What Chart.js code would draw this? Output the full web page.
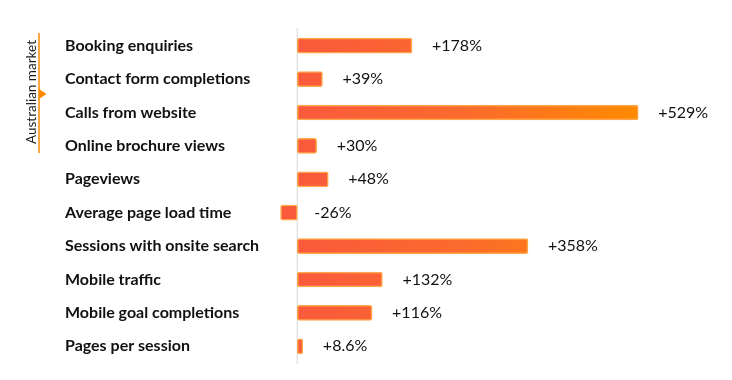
<!DOCTYPE html>
<html>
<head>
<meta charset="utf-8">
<script src="https://cdn.jsdelivr.net/npm/chart.js@4/dist/chart.umd.min.js"></script>
<style>
  html, body { margin: 0; padding: 0; background: #ffffff; }
  #wrap { position: relative; width: 732px; height: 380px; }
</style>
</head>
<body>
<div id="wrap"><canvas id="c" width="732" height="380"></canvas></div>
<script>
const categories = [
  "Booking enquiries",
  "Contact form completions",
  "Calls from website",
  "Online brochure views",
  "Pageviews",
  "Average page load time",
  "Sessions with onsite search",
  "Mobile traffic",
  "Mobile goal completions",
  "Pages per session"
];
const changePercent = [178, 39, 529, 30, 48, -26, 358, 132, 116, 8.6];
const groupLabel = "Australian market";

const zeroLine = {
  id: 'zeroLine',
  beforeDatasetsDraw(chart) {
    const ctx = chart.ctx, x = chart.scales.x.getPixelForValue(0);
    const a = chart.chartArea;
    ctx.save();
    ctx.strokeStyle = '#e3e3e3';
    ctx.lineWidth = 1.5;
    ctx.beginPath();
    ctx.moveTo(x, a.top - 1);
    ctx.lineTo(x, a.bottom + 1);
    ctx.stroke();
    ctx.restore();
  }
};

const valueLabels = {
  id: 'valueLabels',
  afterDatasetsDraw(chart) {
    const ctx = chart.ctx;
    const meta = chart.getDatasetMeta(0);
    ctx.save();
    ctx.font = '16px Lato';
    ctx.fillStyle = '#111111';
    ctx.textAlign = 'left';
    ctx.textBaseline = 'middle';
    meta.data.forEach((el, i) => {
      const v = changePercent[i];
      const txt = (v > 0 ? '+' : '') + v + '%';
      const xEnd = Math.max(el.x, el.base);
      ctx.fillText(txt, xEnd + (v < 0 ? 17 : 20), el.y);
    });
    ctx.restore();
  }
};

const groupMarker = {
  id: 'groupMarker',
  afterDraw(chart) {
    const ctx = chart.ctx;
    ctx.save();
    ctx.strokeStyle = '#ff8a00';
    ctx.lineWidth = 1.5;
    ctx.beginPath();
    ctx.moveTo(39, 33);
    ctx.lineTo(39, 153);
    ctx.stroke();
    ctx.fillStyle = '#ff8a00';
    ctx.beginPath();
    ctx.moveTo(39, 89);
    ctx.lineTo(46.5, 94);
    ctx.lineTo(39, 99);
    ctx.closePath();
    ctx.fill();
    ctx.translate(32, 92);
    ctx.rotate(-Math.PI / 2);
    ctx.font = '13.5px Lato';
    ctx.fillStyle = '#1a1a1a';
    ctx.textAlign = 'center';
    ctx.textBaseline = 'middle';
    ctx.fillText(groupLabel, 0, 0);
    ctx.restore();
  }
};

new Chart(document.getElementById('c'), {
  type: 'bar',
  data: {
    labels: categories,
    datasets: [{
      data: changePercent,
      backgroundColor(context) {
        const chart = context.chart;
        const a = chart.chartArea;
        if (!a) return '#f95a3c';
        const x = chart.scales.x;
        const g = chart.ctx.createLinearGradient(x.getPixelForValue(0), 0, x.getPixelForValue(529), 0);
        g.addColorStop(0, '#f95a3c');
        g.addColorStop(0.5, '#fb6b2c');
        g.addColorStop(1, '#ff8a00');
        return g;
      },
      borderColor: 'rgba(255,150,40,0.85)',
      borderWidth: 1.5,
      borderSkipped: false,
      borderRadius: 2,
      barThickness: 15
    }]
  },
  options: {
    indexAxis: 'y',
    responsive: false,
    animation: false,
    layout: { padding: { left: 65, right: 12, top: 29, bottom: 17 } },
    plugins: { legend: { display: false }, tooltip: { enabled: false } },
    scales: {
      x: {
        display: false,
        min: -30,
        max: 656
      },
      y: {
        grid: { display: false },
        border: { display: false },
        afterFit(scale) { scale.width = 213; },
        ticks: {
          crossAlign: 'far',
          color: '#111111',
          font: { family: 'Lato', size: 16, weight: 'bold' }
        }
      }
    }
  },
  plugins: [zeroLine, valueLabels, groupMarker]
});
</script>
</body>
</html>
